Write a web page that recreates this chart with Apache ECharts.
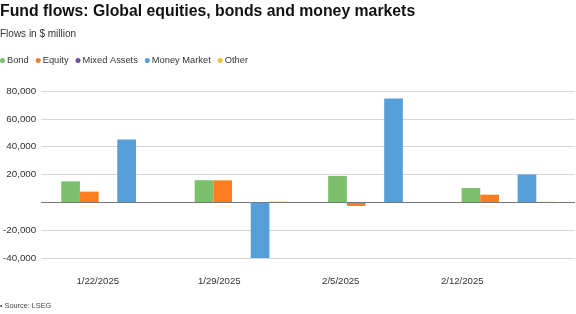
<!DOCTYPE html>
<html>
<head>
<meta charset="utf-8">
<script src="https://cdn.jsdelivr.net/npm/echarts@6/dist/echarts.min.js"></script>
<style>
  html, body { margin: 0; padding: 0; background: #fff; }
  #chart { width: 576px; height: 314px; }
</style>
</head>
<body>
<div id="chart"></div>
<script>
// Flujos de fondos por semana (millones de $)
const categories = ["1/22/2025", "1/29/2025", "2/5/2025", "2/12/2025"];
const seriesNames = ["Bond", "Equity", "Mixed Assets", "Money Market", "Other"];
const bondValues = [15100, 15900, 19000, 10300];
const equityValues = [7700, 15800, -2600, 5500];
const mixedValues = [-300, 200, -100, 100];
const moneyMarketValues = [45200, -40600, 74700, 20000];
const otherValues = [300, 500, 100, 400];
const yTicks = [-40000, 80000, 20000]; // min, max, intervalo

const colors = ["#7cbf6c", "#fb7d20", "#6f4fa0", "#559ed8", "#eec23c"];
const fontFam = "'Liberation Sans', Arial, sans-serif";

const chart = echarts.init(document.getElementById("chart"));

const allValues = [bondValues, equityValues, mixedValues, moneyMarketValues, otherValues];

const option = {
  animation: false,
  textStyle: { fontFamily: fontFam },
  title: [
    {
      text: "Fund flows: Global equities, bonds and money markets",
      left: -5,
      top: -1,
      textStyle: { fontSize: 15.8, fontWeight: "bold", color: "#111", fontFamily: fontFam }
    },
    {
      text: "Flows in $ million",
      left: -5,
      top: 24,
      textStyle: { fontSize: 10, fontWeight: "normal", color: "#333", fontFamily: fontFam }
    },
    {
      text: "• Source: LSEG",
      left: -5,
      top: 297,
      textStyle: { fontSize: 7.3, fontWeight: "normal", color: "#444", fontFamily: fontFam }
    }
  ],
  legend: {
    data: seriesNames,
    left: 0,
    top: 56,
    padding: 0,
    icon: "circle",
    itemWidth: 5,
    itemHeight: 5,
    itemGap: 7,
    textStyle: { fontSize: 9.3, color: "#333", padding: [0, 0, 0, -3] }
  },
  grid: [
    { left: 41, right: 1, top: 91, bottom: 56 },
    { left: 37, right: 53, top: 91, bottom: 56 }
  ],
  xAxis: [
    {
      type: "category",
      data: categories,
      gridIndex: 0,
      axisLine: { show: false },
      axisTick: { show: false },
      axisLabel: { show: false }
    },
    {
      type: "category",
      data: categories,
      gridIndex: 1,
      axisLine: { show: false },
      axisTick: { show: false },
      axisLabel: { fontSize: 9.6, color: "#333", margin: 18 }
    }
  ],
  yAxis: [
    {
      type: "value",
      gridIndex: 0,
      min: yTicks[0],
      max: yTicks[1],
      interval: yTicks[2],
      axisLine: { show: false },
      axisTick: { show: false },
      splitLine: { lineStyle: { color: "#d6d6d6", width: 1 } },
      axisLabel: {
        fontSize: 9.8,
        color: "#333",
        margin: 5,
        formatter: function (v) {
          if (v === 0) return "";
          return v.toLocaleString("en-US");
        }
      }
    },
    {
      type: "value",
      gridIndex: 1,
      min: yTicks[0],
      max: yTicks[1],
      show: false
    }
  ],
  series: seriesNames.map(function (name, i) {
    const s = {
      name: name,
      type: "bar",
      xAxisIndex: 0,
      yAxisIndex: 0,
      data: allValues[i],
      barGap: "0%",
      barCategoryGap: "30%",
      itemStyle: { color: colors[i] }
    };
    if (i === 0) {
      s.markLine = {
        silent: true,
        symbol: "none",
        label: { show: false },
        lineStyle: { color: "#777", width: 1, type: "solid" },
        data: [{ yAxis: 0 }]
      };
    }
    return s;
  })
};

chart.setOption(option);
</script>
</body>
</html>
